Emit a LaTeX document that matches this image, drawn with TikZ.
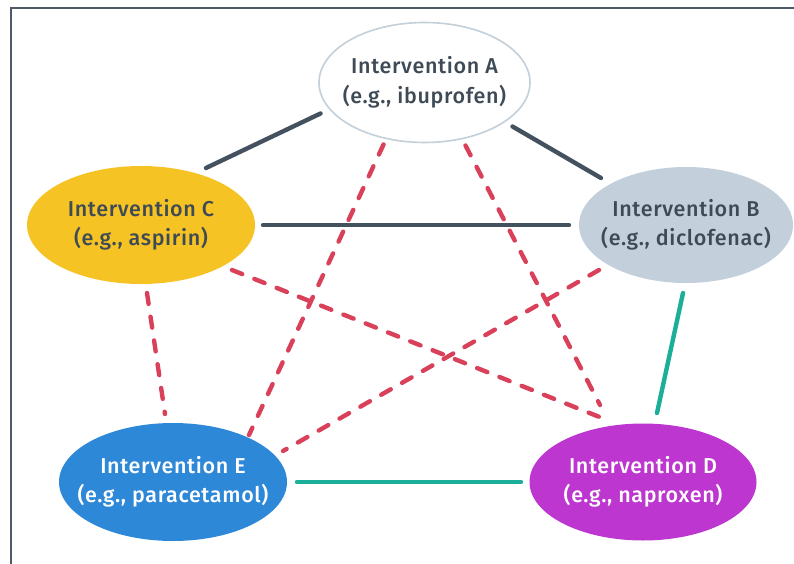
\documentclass[tikz,border=0pt]{standalone}
\usepackage{fontspec}
\setmainfont{Fira Sans}[UprightFont={* Medium}, LetterSpace=3]
\usetikzlibrary{shapes.geometric,calc}

\definecolor{framegray}{HTML}{4D5B69}
\definecolor{textdark}{HTML}{3E4A55}
\definecolor{ringblue}{HTML}{C3CFD9}
\definecolor{aspirinyellow}{HTML}{F6C324}
\definecolor{diclogray}{HTML}{C3CFDA}
\definecolor{paraceblue}{HTML}{2E88D8}
\definecolor{naproxpurple}{HTML}{BC36CF}
\definecolor{linkdark}{HTML}{44525F}
\definecolor{linkred}{HTML}{D9415A}
\definecolor{linkteal}{HTML}{1BAE98}

\tikzset{
  % the negative x-padding lets minimum width alone fix the ellipse size
  drug/.style={ellipse, inner xsep=-60pt, inner ysep=0pt, align=center,
               font=\fontsize{21.5}{29.5}\selectfont, text=textdark},
  solidlink/.style={line width=4.4pt, line cap=round, draw=linkdark},
  samelink/.style={line width=4.4pt, line cap=round, draw=linkteal},
  dashlink/.style={line width=4.4pt, line cap=round, draw=linkred,
                   dash pattern=on 11pt off 13pt},
}

\begin{document}
\begin{tikzpicture}[x=1pt, y=-1pt]
  \useasboundingbox (0,0) rectangle (794,564);
  \clip (0,0) rectangle (794,564);

  % outer frame, running off the right and bottom edges
  \draw[framegray, line width=2.4pt] (11,8) rectangle (820,590);

  % treatments
  \node[drug, draw=ringblue, line width=1.6pt, fill=white,
        minimum width=211pt, minimum height=120pt] (A) at (424.5,82.5)
        {Intervention A\\(e.g., ibuprofen)};
  \node[drug, fill=aspirinyellow, minimum width=228pt, minimum height=118pt]
        (C) at (141,225) {Intervention C\\(e.g., aspirin)};
  \node[drug, fill=diclogray, minimum width=214pt, minimum height=116pt]
        (B) at (686,225) {Intervention B\\(e.g., diclofenac)};
  \node[drug, fill=paraceblue, text=white, minimum width=228pt, minimum height=118pt]
        (E) at (173,482) {Intervention E\\(e.g., paracetamol)};
  \node[drug, fill=naproxpurple, text=white, minimum width=227pt, minimum height=117pt]
        (D) at (643,482) {Intervention D\\(e.g., naproxen)};

  % direct comparisons
  \draw[solidlink] ($(A)+(-104,31)$) -- ($(C)+(65,-57)$);
  \draw[solidlink] ($(A)+(88,44)$) -- ($(B)+(-85,-47)$);
  \draw[solidlink] ($(C)+(122,0)$) -- ($(B)+(-117,0)$);
  \draw[samelink] ($(B)+(-3,68)$) -- ($(D)+(14,-69)$);
  \draw[samelink] ($(E)+(124,0)$) -- ($(D)+(-122,0)$);

  % indirect comparisons
  \draw[dashlink] ($(A)+(-41,62)$) -- ($(E)+(76,-47)$);
  \draw[dashlink] ($(A)+(41,63)$) -- ($(D)+(-43,-77)$);
  \draw[dashlink] ($(C)+(6,68)$) -- ($(E)+(-8,-68)$);
  \draw[dashlink] ($(C)+(91,45)$) -- ($(D)+(-41,-64)$);
  \draw[dashlink] ($(B)+(-87,45)$) -- ($(E)+(110,-31)$);
\end{tikzpicture}
\end{document}
